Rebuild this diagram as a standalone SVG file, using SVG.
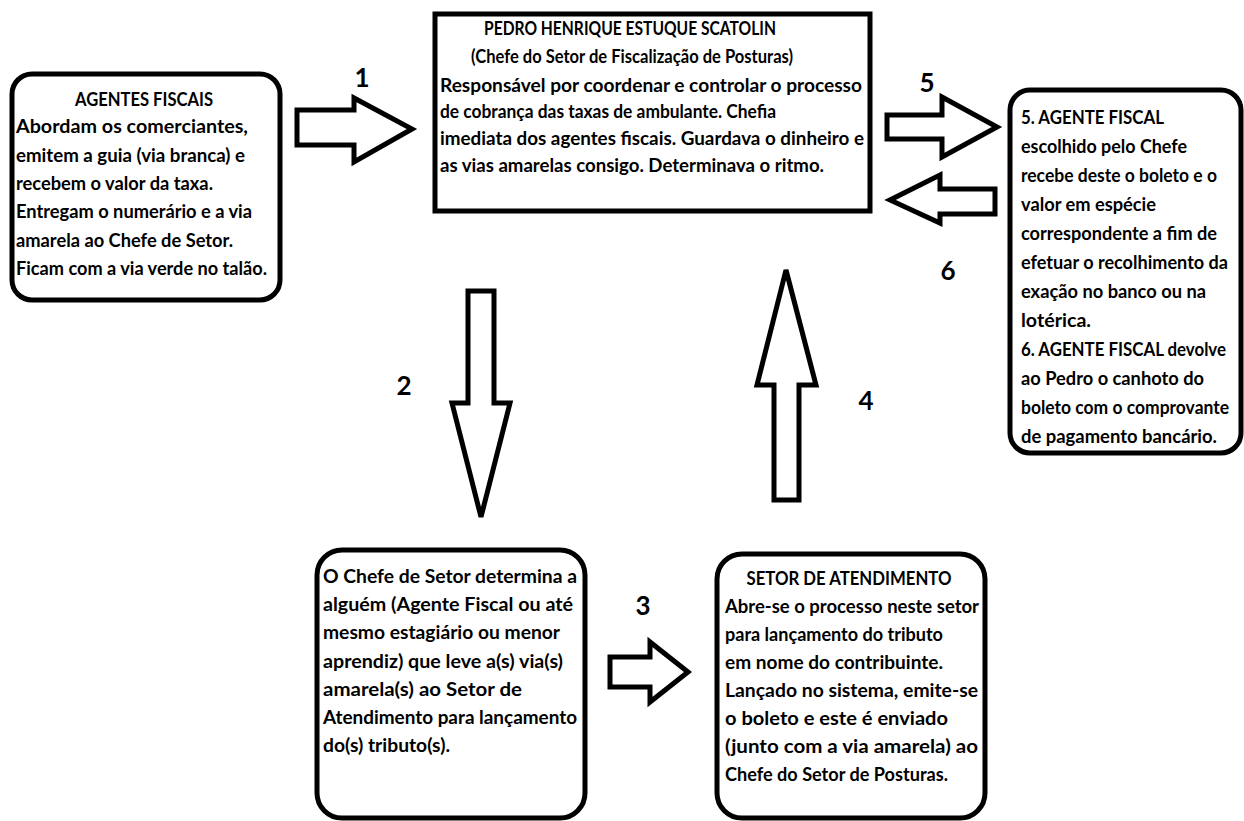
<svg xmlns="http://www.w3.org/2000/svg" width="1244" height="821" viewBox="0 0 1244 821">
<style>
.box{fill:#fff;stroke:#000;stroke-width:5}
.arr{fill:#fff;stroke:#000;stroke-width:5;stroke-linejoin:miter}
text{font-family:Lato,"Open Sans","Liberation Sans",sans-serif;font-weight:bold;fill:#000}
.t{font-size:19px}
.c{text-anchor:middle}
.n{font-size:26px;text-anchor:middle}
</style>
<rect width="1244" height="821" fill="#fff"/>
<g id="connectors">
<polygon class="arr" points="297,110 354,110 354,98 412,129 354,162 354,145 297,145"/>
<polygon class="arr" points="468,291 494,291 494,403 510,403 481,517 452,403 468,403"/>
<polygon class="arr" points="610,657 650,657 650,642 688,672 650,702 650,687 610,687"/>
<polygon class="arr" points="774,500 799,500 799,385 816,385 786,270 757,385 774,385"/>
<polygon class="arr" points="887,115 942,115 942,97 997,127 942,157 942,139 887,139"/>
<polygon class="arr" points="995,189 940,189 940,175 890,200 940,223 940,214 995,214"/>
<text class="n" x="362" y="87">1</text>
<text class="n" x="404" y="395">2</text>
<text class="n" x="643" y="615">3</text>
<text class="n" x="866" y="410">4</text>
<text class="n" x="927" y="92">5</text>
<text class="n" x="948" y="280">6</text>
</g>
<g id="agentes">
<rect class="box" x="12" y="74" width="268" height="226" rx="20"/>
<text class="t c" x="144" y="106" textLength="138" lengthAdjust="spacingAndGlyphs">AGENTES FISCAIS</text>
<text class="t" x="16" y="133" textLength="232" lengthAdjust="spacingAndGlyphs">Abordam os comerciantes,</text>
<text class="t" x="16" y="162" textLength="229" lengthAdjust="spacingAndGlyphs">emitem a guia (via branca) e</text>
<text class="t" x="16" y="190" textLength="197" lengthAdjust="spacingAndGlyphs">recebem o valor da taxa.</text>
<text class="t" x="16" y="218" textLength="236" lengthAdjust="spacingAndGlyphs">Entregam o numerário e a via</text>
<text class="t" x="16" y="247" textLength="217" lengthAdjust="spacingAndGlyphs">amarela ao Chefe de Setor.</text>
<text class="t" x="16" y="275" textLength="251" lengthAdjust="spacingAndGlyphs">Ficam com a via verde no talão.</text>
</g>
<g id="pedro">
<rect class="box" x="435" y="14" width="435" height="197"/>
<text class="t c" x="630" y="35" textLength="292" lengthAdjust="spacingAndGlyphs">PEDRO HENRIQUE ESTUQUE SCATOLIN</text>
<text class="t c" x="632" y="63" textLength="322" lengthAdjust="spacingAndGlyphs">(Chefe do Setor de Fiscalização de Posturas)</text>
<text class="t" x="440" y="92" textLength="422" lengthAdjust="spacingAndGlyphs">Responsável por coordenar e controlar o processo</text>
<text class="t" x="440" y="118" textLength="336" lengthAdjust="spacingAndGlyphs">de cobrança das taxas de ambulante. Chefia</text>
<text class="t" x="440" y="145" textLength="424" lengthAdjust="spacingAndGlyphs">imediata dos agentes fiscais. Guardava o dinheiro e</text>
<text class="t" x="440" y="172" textLength="384" lengthAdjust="spacingAndGlyphs">as vias amarelas consigo. Determinava o ritmo.</text>
</g>
<g id="agente-fiscal">
<rect class="box" x="1010" y="90" width="231" height="363" rx="20"/>
<text class="t" x="1021" y="124" textLength="143" lengthAdjust="spacingAndGlyphs">5. AGENTE FISCAL</text>
<text class="t" x="1021" y="153" textLength="166" lengthAdjust="spacingAndGlyphs">escolhido pelo Chefe</text>
<text class="t" x="1021" y="182" textLength="196" lengthAdjust="spacingAndGlyphs">recebe deste o boleto e o</text>
<text class="t" x="1021" y="211" textLength="135" lengthAdjust="spacingAndGlyphs">valor em espécie</text>
<text class="t" x="1021" y="240" textLength="196" lengthAdjust="spacingAndGlyphs">correspondente a fim de</text>
<text class="t" x="1021" y="269" textLength="207" lengthAdjust="spacingAndGlyphs">efetuar o recolhimento da</text>
<text class="t" x="1021" y="298" textLength="185" lengthAdjust="spacingAndGlyphs">exação no banco ou na</text>
<text class="t" x="1021" y="327" textLength="70" lengthAdjust="spacingAndGlyphs">lotérica.</text>
<text class="t" x="1021" y="356" textLength="205" lengthAdjust="spacingAndGlyphs">6. AGENTE FISCAL devolve</text>
<text class="t" x="1021" y="385" textLength="183" lengthAdjust="spacingAndGlyphs">ao Pedro o canhoto do</text>
<text class="t" x="1021" y="414" textLength="208" lengthAdjust="spacingAndGlyphs">boleto com o comprovante</text>
<text class="t" x="1021" y="443" textLength="196" lengthAdjust="spacingAndGlyphs">de pagamento bancário.</text>
</g>
<g id="chefe-determina">
<rect class="box" x="317" y="550" width="268" height="268" rx="25"/>
<text class="t" x="323" y="583" textLength="254" lengthAdjust="spacingAndGlyphs">O Chefe de Setor determina a</text>
<text class="t" x="323" y="611" textLength="250" lengthAdjust="spacingAndGlyphs">alguém (Agente Fiscal ou até</text>
<text class="t" x="323" y="639" textLength="237" lengthAdjust="spacingAndGlyphs">mesmo estagiário ou menor</text>
<text class="t" x="323" y="668" textLength="240" lengthAdjust="spacingAndGlyphs">aprendiz) que leve a(s) via(s)</text>
<text class="t" x="323" y="696" textLength="199" lengthAdjust="spacingAndGlyphs">amarela(s) ao Setor de</text>
<text class="t" x="323" y="724" textLength="254" lengthAdjust="spacingAndGlyphs">Atendimento para lançamento</text>
<text class="t" x="323" y="752" textLength="127" lengthAdjust="spacingAndGlyphs">do(s) tributo(s).</text>
</g>
<g id="setor-atendimento">
<rect class="box" x="717" y="554" width="268" height="264" rx="25"/>
<text class="t c" x="849" y="585" textLength="205" lengthAdjust="spacingAndGlyphs">SETOR DE ATENDIMENTO</text>
<text class="t" x="725" y="613" textLength="254" lengthAdjust="spacingAndGlyphs">Abre-se o processo neste setor</text>
<text class="t" x="725" y="641" textLength="218" lengthAdjust="spacingAndGlyphs">para lançamento do tributo</text>
<text class="t" x="725" y="669" textLength="218" lengthAdjust="spacingAndGlyphs">em nome do contribuinte.</text>
<text class="t" x="725" y="697" textLength="253" lengthAdjust="spacingAndGlyphs">Lançado no sistema, emite-se</text>
<text class="t" x="725" y="725" textLength="223" lengthAdjust="spacingAndGlyphs">o boleto e este é enviado</text>
<text class="t" x="725" y="753" textLength="253" lengthAdjust="spacingAndGlyphs">(junto com a via amarela) ao</text>
<text class="t" x="725" y="781" textLength="223" lengthAdjust="spacingAndGlyphs">Chefe do Setor de Posturas.</text>
</g>
</svg>
